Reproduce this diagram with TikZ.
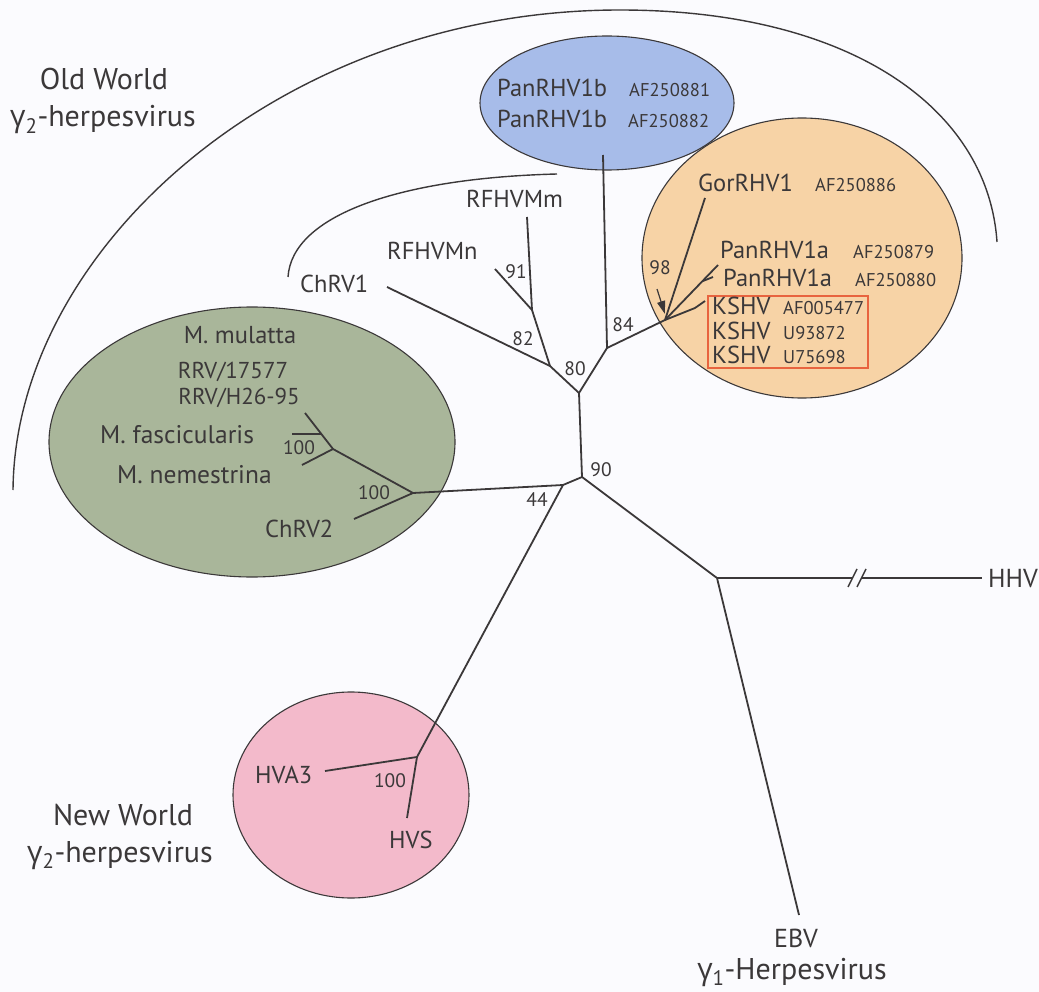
\documentclass[tikz,border=0pt]{standalone}
\usepackage{fontspec}
\setmainfont{PT Sans}
\newfontfamily\gfont{Open Sans}
\usetikzlibrary{arrows.meta}
\definecolor{ink}{HTML}{3B3839}
\definecolor{bluefill}{HTML}{A7BCE9}
\definecolor{orangefill}{HTML}{F7D3A6}
\definecolor{greenfill}{HTML}{A9B69A}
\definecolor{pinkfill}{HTML}{F3BACB}
\definecolor{redbox}{HTML}{E8643F}
\definecolor{paper}{HTML}{FBFBFE}
\begin{document}
\begin{tikzpicture}[x=1pt,y=-1pt,
  every node/.style={text=ink, inner sep=0pt},
  branch/.style={draw=ink, line width=1.8pt, line join=round},
  arcline/.style={draw=ink, line width=1.4pt},
  blob/.style={draw=ink, line width=1.1pt},
  taxon/.style={font=\fontsize{24.5}{26}\selectfont},
  bigtaxon/.style={font=\fontsize{25.5}{27}\selectfont},
  small/.style={font=\fontsize{23}{25}\selectfont},
  acc/.style={font=\fontsize{18.5}{20}\selectfont},
  boot/.style={font=\fontsize{19.5}{21}\selectfont},
  grouplbl/.style={font=\fontsize{30}{32}\selectfont},
  outer/.style={font=\fontsize{26}{28}\selectfont}]
\fill[paper] (0,0) rectangle (1039,992);
\useasboundingbox (0,0) rectangle (1039,992);

% arcs
\draw[arcline] (13,490) .. controls (15,250) and (280,10) .. (620,10)
                        .. controls (850,10) and (988,108) .. (997,242);
\draw[arcline] (288,277) .. controls (292,215) and (400,178) .. (557,174);

% group backgrounds
\filldraw[blob, fill=bluefill] (607,103) ellipse [x radius=127pt, y radius=67pt];
\filldraw[blob, fill=orangefill] (802,258) ellipse [x radius=160pt, y radius=140pt];
\filldraw[blob, fill=greenfill] (252,442) ellipse [x radius=203pt, y radius=135pt];
\filldraw[blob, fill=pinkfill] (351,795) ellipse [x radius=118pt, y radius=103pt];

% tree coordinates
\coordinate (n90) at (582,477);
\coordinate (n80) at (579,393);
\coordinate (n82) at (550,366);
\coordinate (n91) at (532,310);
\coordinate (n84) at (607,348);
\coordinate (n98) at (665,320);
\coordinate (n44) at (563,485);
\coordinate (gA) at (413,493);
\coordinate (gB) at (333,449);
\coordinate (pN) at (417,757);
\coordinate (hN) at (717,578);
\coordinate (lChRV1) at (387,287);
\coordinate (lMn) at (495,269);
\coordinate (lMm) at (527,217);
\coordinate (lPanb) at (603,155);
\coordinate (lGor) at (705,198);
\coordinate (lPana) at (718,265);
\coordinate (tickA) at (703,281);
\coordinate (tickB) at (713,277);
\coordinate (lKbend) at (695,308);
\coordinate (lK) at (705,301);
\coordinate (lRRV) at (305,413);
\coordinate (fascA) at (322,434);
\coordinate (fascB) at (292,434);
\coordinate (lNem) at (302,465);
\coordinate (lChRV2) at (354,519);
\coordinate (lHVA3) at (325,771);
\coordinate (lHVS) at (407,818);
\coordinate (lEBV) at (799,915);
\coordinate (brkL) at (853,578);
\coordinate (brkR) at (861,578);
\coordinate (lHHV) at (982,578);
\coordinate (arrS) at (657,289);
\coordinate (arrE) at (665,314);

% branches
\draw[branch] (n90) -- (n80) -- (n82) -- (lChRV1);
\draw[branch] (n82) -- (n91) -- (lMm);
\draw[branch] (n91) -- (lMn);
\draw[branch] (n80) -- (n84) -- (lPanb);
\draw[branch] (n84) -- (n98) -- (lGor);
\draw[branch] (n98) -- (lPana);
\draw[branch] (tickA) -- (tickB);
\draw[branch] (n98) -- (lKbend) -- (lK);
\draw[branch] (n90) -- (n44) -- (gA) -- (gB) -- (lRRV);
\draw[branch] (fascA) -- (fascB);
\draw[branch] (gB) -- (lNem);
\draw[branch] (gA) -- (lChRV2);
\draw[branch] (n44) -- (pN) -- (lHVA3);
\draw[branch] (pN) -- (lHVS);
\draw[branch] (n90) -- (hN) -- (lEBV);
\draw[branch] (hN) -- (brkL);
\draw[branch] (brkR) -- (lHHV);
\draw[branch, line width=1.5pt] ([shift={(-5,9)}]brkL) -- ([shift={(4,-9)}]brkL);
\draw[branch, line width=1.5pt] ([shift={(-4,9)}]brkR) -- ([shift={(5,-9)}]brkR);
\draw[draw=ink, line width=1.2pt, -{Triangle[length=13pt,width=8pt]}] (arrS) -- (arrE);

% KSHV box
\draw[draw=redbox, line width=1.5pt] (708,296) rectangle (868,368);

% blue group labels
\node[taxon, anchor=base west] (tPanb1) at (497,97) {PanRHV1b};
\node[acc, anchor=base west] (aPanb1) at (629,97) {AF250881};
\node[taxon, anchor=base west] (tPanb2) at (497,128) {PanRHV1b};
\node[acc, anchor=base west] (aPanb2) at (628,128) {AF250882};

% orange group labels
\node[taxon, anchor=base west] (tGor) at (698,192) {GorRHV1};
\node[acc, anchor=base west] (aGor) at (815,192) {AF250886};
\node[taxon, anchor=base west] (tPana1) at (720,259) {PanRHV1a};
\node[acc, anchor=base west] (aPana1) at (853,259) {AF250879};
\node[taxon, anchor=base west] (tPana2) at (723,287) {PanRHV1a};
\node[acc, anchor=base west] (aPana2) at (855,287) {AF250880};
\node[taxon, anchor=base west] (tK1) at (712,315) {KSHV};
\node[acc, anchor=base west] (aK1) at (783,315) {AF005477};
\node[taxon, anchor=base west] (tK2) at (712,340) {KSHV};
\node[acc, anchor=base west] (aK2) at (783,340) {U93872};
\node[taxon, anchor=base west] (tK3) at (712,363) {KSHV};
\node[acc, anchor=base west] (aK3) at (783,363) {U75698};

% RFHV labels
\node[taxon, anchor=base west] (tMm) at (466,208) {RFHVMm};
\node[taxon, anchor=base west] (tMn) at (387,260) {RFHVMn};
\node[taxon, anchor=base west] (tChRV1) at (300,293) {ChRV1};

% green group labels
\node[taxon, anchor=base] (tMul) at (240,344) {M. mulatta};
\node[small, anchor=base] (tRRV1) at (233,378) {RRV/17577};
\node[small, anchor=base] (tRRV2) at (239,404) {RRV/H26-95};
\node[bigtaxon, anchor=base west] (tFas) at (100,443) {M. fascicularis};
\node[bigtaxon, anchor=base west] (tNem) at (117,483) {M. nemestrina};
\node[taxon, anchor=base west] (tChRV2) at (265,537) {ChRV2};

% pink group labels
\node[taxon, anchor=base west] (tHVA3) at (255,783) {HVA3};
\node[taxon, anchor=base west] (tHVS) at (389,848) {HVS};

% outgroups
\node[outer, anchor=base] (tEBV) at (796,947) {EBV};
\node[outer, anchor=base west] (tHHV) at (988,587) {HHV};

% bootstrap values
\node[boot, anchor=base] (b91) at (516,279) {91};
\node[boot, anchor=base] (b82) at (523,345) {82};
\node[boot, anchor=base] (b80) at (575,375) {80};
\node[boot, anchor=base] (b84) at (623,332) {84};
\node[boot, anchor=base] (b90) at (601,476) {90};
\node[boot, anchor=base] (b44) at (537,506) {44};
\node[boot, anchor=base] (b98) at (660,275) {98};
\node[boot, anchor=base] (b100a) at (299,454) {100};
\node[boot, anchor=base] (b100b) at (374,499) {100};
\node[boot, anchor=base] (b100c) at (390,787) {100};

% group titles
\node[grouplbl, anchor=base] (owA) at (104,90) {Old World};
\node[grouplbl, anchor=base] (owB) at (103,127) {{\gfont γ}\textsubscript{2}-herpesvirus};
\node[grouplbl, anchor=base] (nwA) at (123,825) {New World};
\node[grouplbl, anchor=base] (nwB) at (120,862) {{\gfont γ}\textsubscript{2}-herpesvirus};
\node[grouplbl, font=\fontsize{30}{32}\selectfont, anchor=base] (g1) at (792,979) {{\gfont γ}\textsubscript{1}-Herpesvirus};
\end{tikzpicture}
\end{document}
